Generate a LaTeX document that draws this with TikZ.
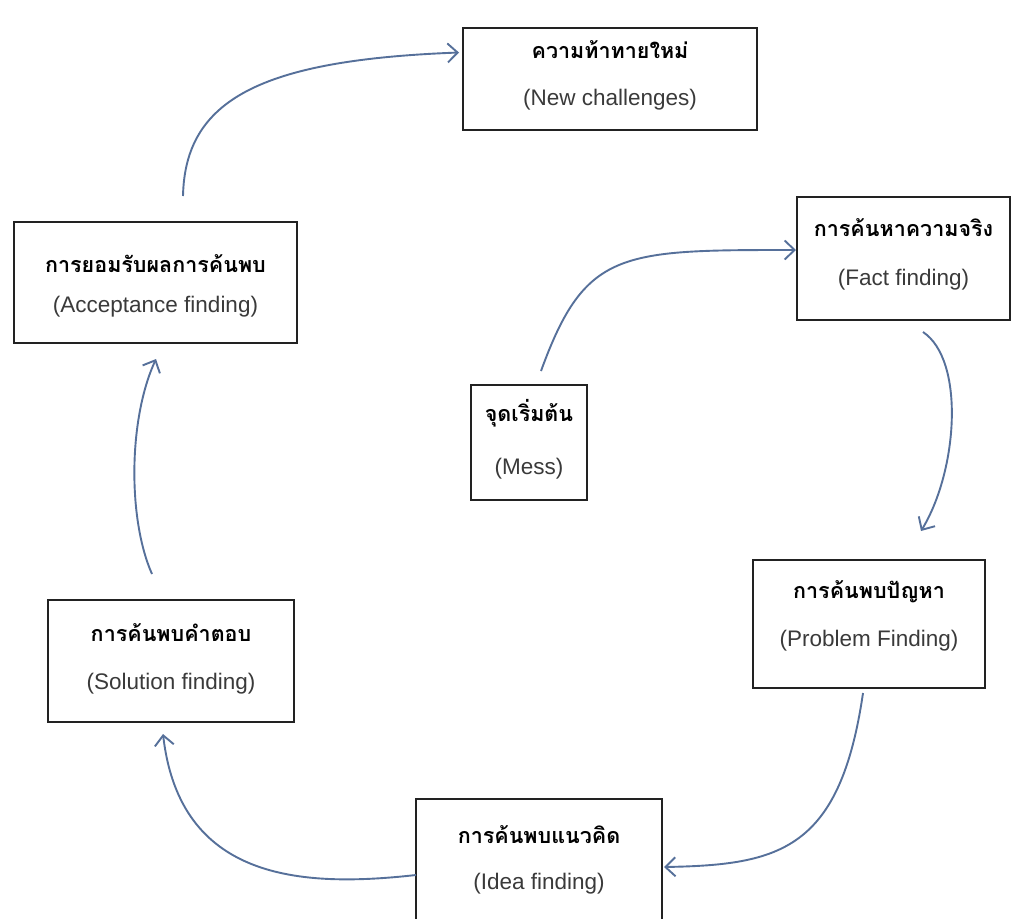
\documentclass[tikz,border=0pt]{standalone}
\usepackage{fontspec}
\setmainfont{Liberation Sans}
\newfontfamily\thaifont[Script=Thai]{Loma}
\usetikzlibrary{arrows.meta}
\definecolor{arrowc}{HTML}{56709A}
\definecolor{boxc}{HTML}{222222}
\definecolor{txtc}{HTML}{3A3A3A}
\tikzset{
  stagebox/.style={draw=boxc, line width=2pt, rectangle, inner sep=0pt},
  thlbl/.style={anchor=base, inner sep=0pt, text=black, font=\thaifont\bfseries\fontsize{21.5}{26}\selectfont},
  enlbl/.style={anchor=base, inner sep=0pt, text=txtc, font=\fontsize{22.5}{28}\selectfont},
  flow/.style={draw=arrowc, line width=1.9pt, -{Straight Barb[length=10pt,width=19pt,line width=1.9pt]}}
}
\begin{document}
\begin{tikzpicture}[x=1pt,y=-1pt]
\useasboundingbox (0,0) rectangle (1035,918);
\clip (0,0) rectangle (1035,918);
\fill[white] (0,0) rectangle (1035,918);
% boxes
\node[stagebox, minimum width=294pt, minimum height=102pt] (new) at (610,79) {};
\node[stagebox, minimum width=213pt, minimum height=123pt] (fact) at (903.5,258.5) {};
\node[stagebox, minimum width=116pt, minimum height=115pt] (mess) at (529,442.5) {};
\node[stagebox, minimum width=232pt, minimum height=128pt] (prob) at (869,624) {};
\node[stagebox, minimum width=246pt, minimum height=136pt] (idea) at (539,867) {};
\node[stagebox, minimum width=246pt, minimum height=122pt] (sol) at (171,661) {};
\node[stagebox, minimum width=283pt, minimum height=121pt] (acc) at (155.5,282.5) {};
% labels
\node[thlbl] (new-th) at (610,58) {ความท้าทายใหม่};
\node[enlbl] (new-en) at (610,105) {(New challenges)};
\node[thlbl] (fact-th) at (903.5,236) {การค้นหาความจริง};
\node[enlbl] (fact-en) at (903.5,285) {(Fact finding)};
\node[thlbl] (mess-th) at (529,421) {จุดเริ่มต้น};
\node[enlbl] (mess-en) at (529,474) {(Mess)};
\node[thlbl] (prob-th) at (869,598) {การค้นพบปัญหา};
\node[enlbl] (prob-en) at (869,646) {(Problem Finding)};
\node[thlbl] (idea-th) at (539,843) {การค้นพบแนวคิด};
\node[enlbl] (idea-en) at (539,889) {(Idea finding)};
\node[thlbl] (sol-th) at (171,641) {การค้นพบคำตอบ};
\node[enlbl] (sol-en) at (171,689) {(Solution finding)};
\node[thlbl] (acc-th) at (155.5,272) {การยอมรับผลการค้นพบ};
\node[enlbl] (acc-en) at (155.5,312) {(Acceptance finding)};
% connectors
\draw[flow] ([shift={(12,-13)}]mess.north) .. controls (585,250) and (620,250) .. ([shift={(0,-8.5)}]fact.west);
\draw[flow] ([shift={(19.5,11)}]fact.south) .. controls (965,360) and (958,470) .. ([shift={(52,-28)}]prob.north);
\draw[flow] ([shift={(-6,4)}]prob.south) .. controls (840,850) and (780,865) .. ([shift={(1,0)}]idea.east);
\draw[flow] ([shift={(1,8)}]idea.west) .. controls (300,888) and (180,880) .. ([shift={(-8,11)}]sol.south);
\draw[flow] ([shift={(-19,-25)}]sol.north) .. controls (128,520) and (128,420) .. ([shift={(0.5,15)}]acc.south);
\draw[flow] ([shift={(27.5,-25)}]acc.north) .. controls (185,100) and (260,60) .. ([shift={(-3,-26.5)}]new.west);
\end{tikzpicture}
\end{document}
